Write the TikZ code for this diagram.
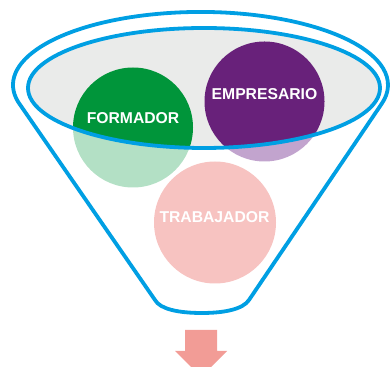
\documentclass[tikz,border=0pt]{standalone}
\usepackage{fontspec}
\setmainfont{Liberation Sans}
\definecolor{funnelblue}{RGB}{0,159,227}
\definecolor{bowlgray}{RGB}{234,235,234}
\definecolor{darkgreen}{RGB}{0,149,58}
\definecolor{lightgreen}{RGB}{179,224,197}
\definecolor{darkpurple}{RGB}{104,33,122}
\definecolor{lightpurple}{RGB}{194,164,206}
\definecolor{pinkc}{RGB}{247,195,193}
\definecolor{arrowpink}{RGB}{242,156,150}
\begin{document}
\begin{tikzpicture}[x=1pt,y=1pt,
  bluestroke/.style={draw=funnelblue,line width=3.8pt,line join=round},
  roletext/.style={text=white,font=\fontsize{15.7}{18}\selectfont\bfseries,inner sep=0pt},
  rolecircle/.style={circle,inner sep=0pt,minimum size=120pt}]
\useasboundingbox (0,0) rectangle (390,366);
\clip (0,0) rectangle (390,366);
% light (outside) parts of circles
\node[rolecircle,fill=lightgreen] (formador) at (133,238.5) {};
\node[rolecircle,fill=lightpurple] (empresario) at (264.5,264.5) {};
\node[rolecircle,fill=pinkc,minimum size=122pt] (trabajador) at (215,143.5) {};
% bowl
\fill[bowlgray] (204,278) ellipse [x radius=176, y radius=60];
\begin{scope}
  \clip (204,278) ellipse [x radius=176, y radius=60];
  \fill[darkgreen] (formador.center) circle [radius=60];
  \fill[darkpurple] (empresario.center) circle [radius=60];
\end{scope}
\draw[bluestroke] (204,278) ellipse [x radius=176, y radius=60];
% funnel outline
\draw[bluestroke] (18.2,264)
  arc [start angle=193.5, end angle=-15, x radius=187.5, y radius=73]
  -- (249,66) .. controls (243,57) and (225,53) .. (202,53)
  .. controls (178,53) and (160,57) .. (155,66) -- cycle;
% labels
\node[roletext] (tformador) at (133,247.5) {FORMADOR};
\node[roletext] (tempresario) at (264.5,272) {EMPRESARIO};
\node[roletext] (ttrabajador) at (214.5,148.5) {TRABAJADOR};
% arrow
\fill[arrowpink] (185,36) -- (217,36) -- (217,15) -- (227,15) -- (201,-11) -- (175,15) -- (185,15) -- cycle;
\end{tikzpicture}
\end{document}
